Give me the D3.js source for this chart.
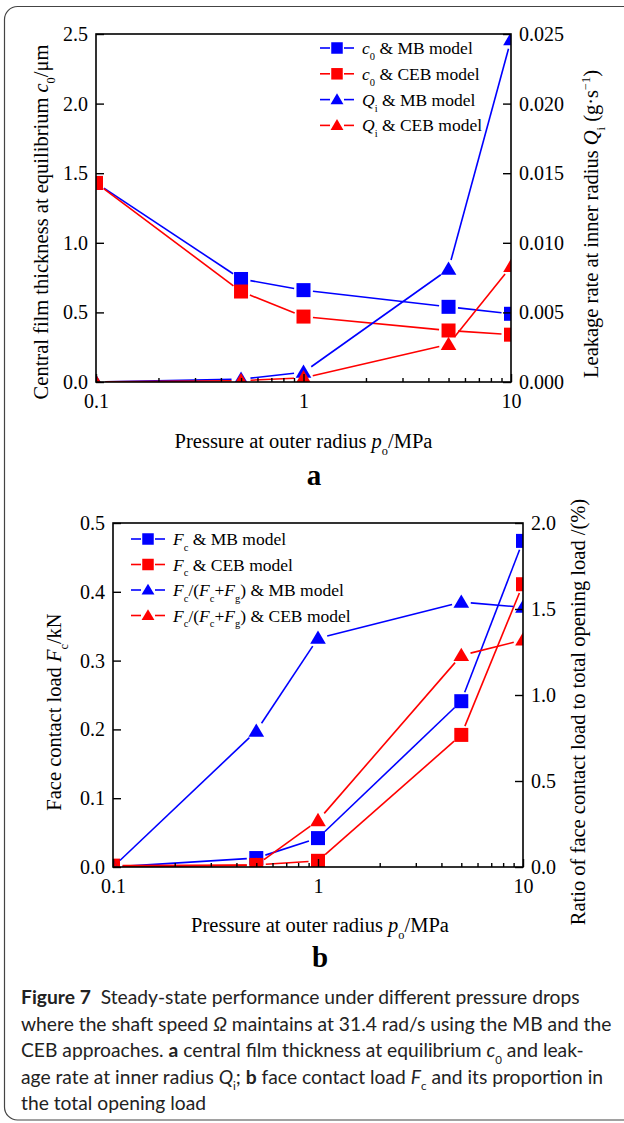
<!DOCTYPE html>
<html>
<head>
<meta charset="utf-8">
<script src="https://cdn.jsdelivr.net/npm/d3@7"></script>
<style>
  body { margin: 0; background: #fff; }
  svg { display: block; }
</style>
</head>
<body>
<svg id="fig" width="624" height="1123"></svg>
<script>
// values
var pressure = [0.1, 0.5, 1, 5, 10];

// panel a
var c0MB  = [1.43, 0.74, 0.66, 0.54, 0.49];
var c0CEB = [1.43, 0.65, 0.47, 0.37, 0.34];
var qiMB  = [0.0000, 0.0002, 0.0007, 0.0081, 0.0246];
var qiCEB = [0.0000, 0.0001, 0.0003, 0.0027, 0.0083];

// panel b
var fcMB     = [0.000, 0.013, 0.042, 0.241, 0.474];
var fcCEB    = [0.002, 0.003, 0.009, 0.192, 0.411];
var ratioMB  = [0.00, 0.79, 1.33, 1.54, 1.51];
var ratioCEB = [0.00, 0.01, 0.27, 1.23, 1.32];

// ticks
var xMajor = [0.1, 1, 10];
var c0Ticks = [0, 0.5, 1, 1.5, 2, 2.5];
var qiTicks = [0, 0.005, 0.01, 0.015, 0.02, 0.025];
var fcTicks = [0, 0.1, 0.2, 0.3, 0.4, 0.5];
var ratioTicks = [0, 0.5, 1, 1.5, 2];

var BLUE = "#0000ff", RED = "#ff0000";
var SERIF = "'Liberation Serif', 'Times New Roman', serif";
var TITLE_FS = 20.5;

var svg = d3.select("#fig");

// rounded frame around the whole figure
svg.append("rect")
  .attr("x", 4.5).attr("y", 6.5)
  .attr("width", 650).attr("height", 1113.5)
  .attr("rx", 13)
  .attr("fill", "none").attr("stroke", "#444").attr("stroke-width", 1.2);

// text with italic / sub / sup parts: parts = [[text, flags], ...]
function rich(t, parts, fs) {
  var shift = 0;
  parts.forEach(function (p) {
    var f = p[1] || "";
    var ts = t.append("tspan").text(p[0]);
    var want = 0;
    if (f.indexOf("_") >= 0) want = 0.34 * fs;
    if (f.indexOf("^") >= 0) want = -0.38 * fs;
    if (want !== shift) { ts.attr("dy", want - shift); shift = want; }
    if (f.indexOf("_") >= 0 || f.indexOf("^") >= 0) ts.attr("font-size", 0.6 * fs);
    if (f.indexOf("i") >= 0) ts.attr("font-style", "italic");
    if (f.indexOf("b") >= 0) ts.attr("font-weight", "bold");
  });
  return t;
}

function marker(g, type, cx, cy, size, color) {
  if (type === "square") {
    g.append("rect")
      .attr("x", cx - size / 2).attr("y", cy - size / 2)
      .attr("width", size).attr("height", size)
      .attr("fill", color);
  } else {
    var h = size * 0.95, w = size * 1.12;
    g.append("path")
      .attr("d", "M" + cx + "," + (cy - h * 0.58) +
                 "L" + (cx + w / 2) + "," + (cy + h * 0.42) +
                 "L" + (cx - w / 2) + "," + (cy + h * 0.42) + "Z")
      .attr("fill", color);
  }
}

var clipId = 0;
function panel(o) {
  var g = svg.append("g");
  var x = d3.scaleLog().domain([0.1, 10]).range([o.left, o.right]);
  var yL = d3.scaleLinear().domain(o.lDom).range([o.bottom, o.top]);
  var yR = d3.scaleLinear().domain(o.rDom).range([o.bottom, o.top]);

  var cid = "clip" + (clipId++);
  svg.append("clipPath").attr("id", cid).append("rect")
    .attr("x", o.left).attr("y", o.top)
    .attr("width", o.right - o.left).attr("height", o.bottom - o.top);

  var plot = g.append("g").attr("clip-path", "url(#" + cid + ")");

  o.series.forEach(function (s) {
    var y = s.axis === "right" ? yR : yL;
    var pts = pressure.map(function (p, i) { return [x(p), y(s.values[i])]; });
    var gap = 9.5;
    for (var i = 0; i < pts.length - 1; i++) {
      var a = pts[i], b = pts[i + 1];
      var dx = b[0] - a[0], dy = b[1] - a[1];
      var L = Math.sqrt(dx * dx + dy * dy);
      if (L <= 2 * gap) continue;
      var ux = dx / L, uy = dy / L;
      plot.append("line")
        .attr("x1", a[0] + ux * gap).attr("y1", a[1] + uy * gap)
        .attr("x2", b[0] - ux * gap).attr("y2", b[1] - uy * gap)
        .attr("stroke", s.color).attr("stroke-width", 1.6);
    }
    pts.forEach(function (p) { marker(plot, s.type, p[0], p[1], 14, s.color); });
  });

  // axes, ticks pointing inwards
  var ax = g.append("g").attr("transform", "translate(0," + o.bottom + ")")
    .call(d3.axisBottom(x).tickValues(xMajor).tickSize(-8).tickPadding(12)
      .tickFormat(function (d) { return String(d); }));
  var minor = x.ticks().filter(function (d) { return xMajor.indexOf(d) < 0; });
  var axm = g.append("g").attr("transform", "translate(0," + o.bottom + ")")
    .call(d3.axisBottom(x).tickValues(minor).tickSize(-4).tickFormat(""));
  var al = g.append("g").attr("transform", "translate(" + o.left + ",0)")
    .call(d3.axisLeft(yL).tickValues(o.lTicks).tickSize(-8).tickPadding(8)
      .tickFormat(d3.format(o.lFmt)));
  var ar = g.append("g").attr("transform", "translate(" + o.right + ",0)")
    .call(d3.axisRight(yR).tickValues(o.rTicks).tickSize(-8).tickPadding(8)
      .tickFormat(d3.format(o.rFmt)));
  [ax, axm, al, ar].forEach(function (a) {
    a.select(".domain").remove();
    a.attr("font-family", SERIF).attr("font-size", 20);
    a.selectAll("line").attr("stroke", "#000").attr("stroke-width", 1.4);
    a.selectAll("text").attr("fill", "#000");
  });

  g.append("rect")
    .attr("x", o.left).attr("y", o.top)
    .attr("width", o.right - o.left).attr("height", o.bottom - o.top)
    .attr("fill", "none").attr("stroke", "#000").attr("stroke-width", 1.6);

  // legend
  o.series.forEach(function (s, i) {
    var ly = o.legY + i * o.legStep, mx = o.legX;
    g.append("line").attr("x1", mx - 17).attr("x2", mx - 7).attr("y1", ly).attr("y2", ly)
      .attr("stroke", s.color).attr("stroke-width", 1.6);
    g.append("line").attr("x1", mx + 7).attr("x2", mx + 17).attr("y1", ly).attr("y2", ly)
      .attr("stroke", s.color).attr("stroke-width", 1.6);
    marker(g, s.type, mx, ly, 11.5, s.color);
    rich(g.append("text").attr("x", mx + 25).attr("y", ly + 6)
      .attr("font-family", SERIF).attr("font-size", 17.5), s.label, 17.5);
  });

  // axis titles
  rich(g.append("text").attr("x", (o.left + o.right) / 2 + o.xtDx).attr("y", o.xtY)
    .attr("text-anchor", "middle").attr("font-family", SERIF).attr("font-size", TITLE_FS),
    [["Pressure at outer radius "], ["p", "i"], ["o", "_"], ["/MPa"]], TITLE_FS);
  rich(g.append("text")
    .attr("transform", "translate(" + o.ltX + "," + o.ltY + ") rotate(-90)")
    .attr("dy", "0.33em").attr("text-anchor", "middle")
    .attr("font-family", SERIF).attr("font-size", TITLE_FS), o.lTitle, TITLE_FS);
  rich(g.append("text")
    .attr("transform", "translate(" + o.rtX + "," + o.rtY + ") rotate(-90)")
    .attr("dy", "0.33em").attr("text-anchor", "middle")
    .attr("font-family", SERIF).attr("font-size", TITLE_FS), o.rTitle, TITLE_FS);
  g.append("text").attr("x", o.tagX).attr("y", o.tagY)
    .attr("text-anchor", "middle").attr("font-family", SERIF)
    .attr("font-weight", "bold").attr("font-size", 29).text(o.tag);
}

panel({
  left: 96, right: 511, top: 34, bottom: 382,
  lDom: [0, 2.5], rDom: [0, 0.025],
  lTicks: c0Ticks, rTicks: qiTicks, lFmt: ".1f", rFmt: ".3f",
  series: [
    { values: c0MB,  axis: "left",  type: "square",   color: BLUE, label: [["c", "i"], ["0", "_"], [" & MB model"]] },
    { values: c0CEB, axis: "left",  type: "square",   color: RED,  label: [["c", "i"], ["0", "_"], [" & CEB model"]] },
    { values: qiMB,  axis: "right", type: "triangle", color: BLUE, label: [["Q", "i"], ["i", "_"], [" & MB model"]] },
    { values: qiCEB, axis: "right", type: "triangle", color: RED,  label: [["Q", "i"], ["i", "_"], [" & CEB model"]] }
  ],
  legX: 337, legY: 48, legStep: 25.8,
  xtDx: 0, xtY: 448,
  ltX: 41, ltY: 222,
  lTitle: [["Central film thickness at equilibrium "], ["c", "i"], ["0", "_"], ["/μm"]],
  rtX: 591, rtY: 224,
  rTitle: [["Leakage rate at inner radius "], ["Q", "i"], ["i", "_"], [" (g·s"], ["−1", "^"], [")"]],
  tag: "a", tagX: 314, tagY: 485
});

panel({
  left: 113, right: 523, top: 523, bottom: 867,
  lDom: [0, 0.5], rDom: [0, 2],
  lTicks: fcTicks, rTicks: ratioTicks, lFmt: ".1f", rFmt: ".1f",
  series: [
    { values: fcMB,     axis: "left",  type: "square",   color: BLUE, label: [["F", "i"], ["c", "_"], [" & MB model"]] },
    { values: fcCEB,    axis: "left",  type: "square",   color: RED,  label: [["F", "i"], ["c", "_"], [" & CEB model"]] },
    { values: ratioMB,  axis: "right", type: "triangle", color: BLUE, label: [["F", "i"], ["c", "_"], ["/("], ["F", "i"], ["c", "_"], ["+"], ["F", "i"], ["g", "_"], [") & MB model"]] },
    { values: ratioCEB, axis: "right", type: "triangle", color: RED,  label: [["F", "i"], ["c", "_"], ["/("], ["F", "i"], ["c", "_"], ["+"], ["F", "i"], ["g", "_"], [") & CEB model"]] }
  ],
  legX: 148, legY: 539, legStep: 25.5,
  xtDx: 2, xtY: 932,
  ltX: 54, ltY: 712,
  lTitle: [["Face contact load "], ["F", "i"], ["c", "_"], ["/kN"]],
  rtX: 578, rtY: 712,
  rTitle: [["Ratio of face contact load to total opening load /(%)"]],
  tag: "b", tagX: 320, tagY: 967
});

// caption
var SANS = "Lato, 'Open Sans', sans-serif";
var captionLines = [
  [["Figure 7", "b"], ["  Steady-state performance under different pressure drops"]],
  [["where the shaft speed "], ["Ω", "i"], [" maintains at 31.4 rad/s using the MB and the"]],
  [["CEB approaches. "], ["a", "b"], [" central film thickness at equilibrium "], ["c", "i"], ["0", "_"], [" and leak-"]],
  [["age rate at inner radius "], ["Q", "i"], ["i", "_"], ["; "], ["b", "b"], [" face contact load "], ["F", "i"], ["c", "_"], [" and its proportion in"]],
  [["the total opening load"]]
];
var capFs = 17;
var cap = svg.append("g").attr("font-family", SANS).attr("fill", "#222");
function drawCaption(fs) {
  cap.selectAll("*").remove();
  captionLines.forEach(function (ln, i) {
    rich(cap.append("text").attr("x", 21).attr("y", 1004 + i * 26.6)
      .attr("font-size", fs).attr("xml:space", "preserve"), ln, fs);
  });
}
drawCaption(capFs);
var w2 = cap.selectAll("text").nodes()[1].getComputedTextLength();
capFs = capFs * 591 / w2;
drawCaption(capFs);
</script>
</body>
</html>
